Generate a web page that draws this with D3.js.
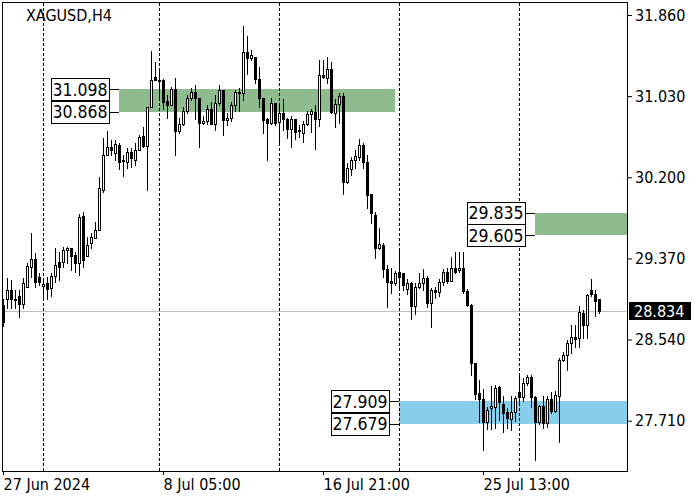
<!DOCTYPE html>
<html><head><meta charset="utf-8">
<script src="https://cdn.jsdelivr.net/npm/d3@7"></script>
<style>
html,body{margin:0;padding:0;background:#fff;}
svg{display:block;}
text{font-family:"DejaVu Sans Condensed","Liberation Sans",sans-serif;}
</style>
</head><body>
<svg id="chart" width="700" height="500"></svg>
<script>
// ---- data (XAGUSD, H4) ----
const opens = [28.89,28.95,29.05,28.96,28.99,28.90,29.08,29.28,29.36,29.18,
29.09,29.12,29.07,29.19,29.33,29.33,29.46,29.48,29.40,29.32,
29.80,29.39,29.53,29.58,29.66,30.07,30.43,30.51,30.45,30.53,
30.37,30.36,30.46,30.38,30.48,30.62,30.52,30.92,31.23,31.20,
31.20,30.98,30.94,31.10,30.67,30.75,30.88,31.01,31.07,31.01,
30.76,30.78,30.90,30.75,30.96,31.09,30.79,30.81,30.94,31.07,
31.06,31.48,31.42,31.43,31.21,31.01,30.80,30.76,30.96,30.77,
30.86,30.80,30.69,30.80,30.67,30.65,30.75,30.85,30.87,30.80,
31.25,31.22,31.31,30.86,30.95,31.03,30.15,30.28,30.38,30.41,
30.53,30.36,30.03,29.81,29.48,29.51,29.26,29.14,29.12,29.23,
29.22,29.06,29.12,28.88,29.08,29.12,29.17,28.91,29.05,29.03,
29.13,29.23,29.14,29.27,29.25,29.27,29.04,28.89,28.30,27.99,
27.93,27.70,27.84,27.85,28.05,27.88,27.80,27.73,27.80,28.00,
27.95,28.10,28.16,27.95,27.70,27.86,27.69,27.93,27.81,27.96,
28.33,28.38,28.50,28.57,28.56,28.81,28.69,29.05,29.01,28.95];
const highs = [28.95,29.17,29.15,29.05,29.05,29.17,29.32,29.63,29.43,29.22,
29.14,29.18,29.22,29.48,29.44,29.49,29.49,29.48,29.44,29.82,
29.84,29.59,29.63,29.74,30.20,30.60,30.67,30.58,30.58,30.55,
30.43,30.50,30.50,30.55,30.63,30.71,30.92,31.49,31.38,31.32,
31.21,31.04,31.12,31.22,30.81,30.92,31.04,31.11,31.14,31.01,
30.83,30.94,30.97,31.04,31.14,31.09,30.86,30.97,31.09,31.11,
31.75,31.65,31.50,31.43,31.33,31.01,30.81,31.01,30.96,30.96,
31.00,30.81,30.83,30.80,30.73,30.78,30.88,30.90,30.94,31.40,
31.40,31.43,31.38,31.00,31.06,31.06,30.35,30.41,30.48,30.59,
30.55,30.43,30.03,29.84,29.68,29.53,29.30,29.27,29.24,29.48,
29.22,29.16,29.13,29.12,29.22,29.26,29.19,29.07,29.08,29.16,
29.26,29.27,29.38,29.44,29.44,29.44,29.06,28.90,28.30,28.13,
28.03,27.85,28.06,28.08,28.07,27.96,27.84,27.96,27.96,28.19,
28.15,28.18,28.18,27.96,27.87,27.96,27.96,28.00,28.01,28.35,
28.41,28.54,28.69,28.69,28.88,28.84,29.01,29.16,29.05,28.96];
const lows = [28.68,28.86,28.86,28.86,28.77,28.86,29.08,29.18,29.08,29.10,
28.96,28.96,28.99,29.13,29.15,29.28,29.32,29.25,29.23,29.20,
29.28,29.39,29.48,29.58,29.66,30.05,30.43,30.43,30.38,30.28,
30.21,30.30,30.31,30.33,30.48,30.51,30.07,30.92,31.19,30.99,
30.90,30.81,30.94,30.43,30.65,30.73,30.86,30.99,30.80,30.51,
30.75,30.74,30.75,30.68,30.94,30.63,30.73,30.78,30.88,30.88,
30.99,31.26,31.40,31.16,30.92,30.65,30.38,30.75,30.73,30.56,
30.68,30.60,30.51,30.59,30.61,30.56,30.73,30.66,30.49,30.72,
31.22,31.16,30.86,30.71,30.76,30.03,30.14,30.22,30.30,30.38,
30.30,29.89,29.73,29.37,29.47,29.18,28.87,29.02,29.10,29.05,
29.05,29.01,28.75,28.80,29.07,29.05,28.87,28.67,28.97,28.99,
29.10,29.12,29.14,29.22,29.23,29.02,28.88,28.18,27.93,27.70,
27.41,27.62,27.62,27.64,27.72,27.59,27.64,27.61,27.71,27.90,
27.91,28.08,27.85,27.31,27.68,27.64,27.65,27.79,27.80,27.49,
28.32,28.23,28.40,28.46,28.46,28.56,28.56,28.99,28.78,28.81];
const closes = [28.72,29.05,28.95,28.95,28.90,29.12,29.29,29.36,29.13,29.13,
29.11,29.06,29.19,29.30,29.28,29.46,29.48,29.39,29.32,29.79,
29.35,29.51,29.59,29.66,30.09,30.43,30.51,30.48,30.54,30.36,
30.38,30.46,30.40,30.48,30.61,30.52,30.92,31.19,31.20,31.18,
30.97,30.94,31.10,30.67,30.75,30.88,31.01,31.07,31.01,30.76,
30.78,30.90,30.75,30.96,31.09,30.79,30.81,30.94,31.07,31.06,
31.48,31.42,31.45,31.21,31.01,30.79,30.76,30.96,30.76,30.86,
30.80,30.69,30.80,30.66,30.68,30.75,30.85,30.88,30.80,31.25,
31.23,31.31,30.87,30.95,31.03,30.15,30.30,30.38,30.42,30.53,
30.36,30.02,29.83,29.48,29.52,29.26,29.13,29.12,29.22,29.18,
29.10,29.12,28.88,29.08,29.12,29.17,28.91,29.05,29.03,29.13,
29.23,29.14,29.27,29.23,29.27,29.04,28.89,28.30,27.98,27.93,
27.70,27.82,27.86,28.04,27.90,27.79,27.74,27.80,27.94,27.95,
28.10,28.16,27.95,27.70,27.86,27.69,27.93,27.81,27.97,28.33,
28.38,28.50,28.57,28.55,28.82,28.69,29.00,29.01,28.93,28.834];

const symbolTitle = "XAGUSD,H4";
const priceTicks = [31.860, 31.030, 30.200, 29.370, 28.540, 27.710];
const timeLabels = ["27 Jun 2024", "8 Jul 05:00", "16 Jul 21:00", "25 Jul 13:00"];
const timeLabelBars = [0, 40, 80, 120];
const separatorBars = [10, 39, 69, 99, 129];
const lastPrice = 28.834;

// zones: upper price, lower price, first bar, last bar (null = to right edge)
const zoneHigh = [31.098, 29.835, 27.909];
const zoneLow  = [30.868, 29.605, 27.679];
const zoneFromBar = [29, 133, 99];
const zoneToBar = [98, null, null];
const zoneKind = ["supply", "supply", "demand"];

// ---- drawing ----
const W = 700, H = 500;
const plot = {left: 2, right: 627, top: 2, bottom: 471};
const colors = {supply: "#8fbc8f", demand: "#87ceeb", grid: "#000", lastLine: "#c0c0c0"};

const svg = d3.select("#chart");
svg.append("rect").attr("width", W).attr("height", H).attr("fill", "#fff");

const x = d3.scaleLinear().domain([0, 149]).range([3, 599]);
const y = d3.scaleLinear().domain([27.71, 31.86]).range([420.7, 15]);
const px = v => Math.round(v);

// zones
const zones = zoneHigh.map((h, k) => ({h, l: zoneLow[k], from: zoneFromBar[k], to: zoneToBar[k], kind: zoneKind[k]}));
svg.append("g").selectAll("rect").data(zones).join("rect")
  .attr("x", d => px(x(d.from)))
  .attr("width", d => (d.to === null ? plot.right : px(x(d.to))) - px(x(d.from)))
  .attr("y", d => px(y(d.h)))
  .attr("height", d => px(y(d.l)) - px(y(d.h)))
  .attr("fill", d => colors[d.kind]);

// last price line
svg.append("line")
  .attr("x1", plot.left).attr("x2", plot.right)
  .attr("y1", px(y(lastPrice)) + 0.5).attr("y2", px(y(lastPrice)) + 0.5)
  .attr("stroke", colors.lastLine).attr("stroke-width", 1);

// separators
svg.append("g").selectAll("line").data(separatorBars).join("line")
  .attr("x1", d => px(x(d)) + 0.5).attr("x2", d => px(x(d)) + 0.5)
  .attr("y1", plot.top + 1).attr("y2", plot.bottom)
  .attr("stroke", colors.grid).attr("stroke-width", 1)
  .attr("stroke-dasharray", "3,2");

// candles
const bars = d3.range(closes.length).map(i => ({i, o: opens[i], h: highs[i], l: lows[i], c: closes[i]}));
const cg = svg.append("g");
cg.selectAll("line").data(bars).join("line")
  .attr("x1", d => px(x(d.i)) + 0.5).attr("x2", d => px(x(d.i)) + 0.5)
  .attr("y1", d => px(y(d.h))).attr("y2", d => px(y(d.l)) + 1)
  .attr("stroke", "#000").attr("stroke-width", 1);
cg.selectAll("rect").data(bars).join("rect")
  .attr("x", d => px(x(d.i)) - 1 + 0.5)
  .attr("width", 2)
  .attr("y", d => px(y(Math.max(d.o, d.c))) + 0.5)
  .attr("height", d => Math.max(px(y(Math.min(d.o, d.c))) - px(y(Math.max(d.o, d.c))), 1))
  .attr("fill", d => d.c >= d.o ? "#fff" : "#000")
  .attr("stroke", "#000").attr("stroke-width", 1);

// frame
svg.append("rect")
  .attr("x", plot.left + 0.5).attr("y", plot.top + 0.5)
  .attr("width", plot.right - plot.left).attr("height", plot.bottom - plot.top)
  .attr("fill", "none").attr("stroke", "#000").attr("stroke-width", 1);

// right axis
const yAxis = d3.axisRight(y).tickValues(priceTicks).tickFormat(d3.format(".3f")).tickSize(5).tickPadding(3);
const ya = svg.append("g").attr("transform", `translate(${plot.right},0)`).call(yAxis);
ya.select(".domain").remove();
ya.selectAll(".tick line").attr("stroke", "#000");
ya.selectAll(".tick text").attr("font-size", 16).attr("fill", "#000")
  .style("font-family", '"DejaVu Sans Condensed","Liberation Sans",sans-serif');

// bottom axis
const xAxis = d3.axisBottom(x).tickValues(timeLabelBars).tickFormat((d, k) => timeLabels[k]).tickSize(4).tickPadding(4);
const xa = svg.append("g").attr("transform", `translate(0,${plot.bottom})`).call(xAxis);
xa.select(".domain").remove();
xa.selectAll(".tick line").attr("stroke", "#000");
xa.selectAll(".tick text").attr("font-size", 16).attr("fill", "#000")
  .attr("text-anchor", "start").attr("x", 0)
  .style("font-family", '"DejaVu Sans Condensed","Liberation Sans",sans-serif');

// last price tag
const ly = y(lastPrice);
svg.append("rect").attr("x", plot.right + 2).attr("y", px(ly) - 9).attr("width", 62).attr("height", 18).attr("fill", "#000");
svg.append("text").attr("x", plot.right + 7).attr("y", ly).attr("dy", "0.36em")
  .attr("font-size", 16).attr("fill", "#fff").text(d3.format(".3f")(lastPrice));

// zone price labels
const labelData = [];
zones.forEach(z => {
  labelData.push({p: z.h, from: z.from});
  labelData.push({p: z.l, from: z.from});
});
const lg = svg.append("g");
labelData.forEach(d => {
  const zx = px(x(d.from));
  const right = zx - 10;
  const cy = y(d.p);
  lg.append("line").attr("x1", right).attr("x2", zx).attr("y1", px(cy) + 0.5).attr("y2", px(cy) + 0.5)
    .attr("stroke", "#000");
  lg.append("rect").attr("x", right - 58 + 0.5).attr("y", px(cy - 11) + 0.5).attr("width", 58).attr("height", 22)
    .attr("fill", "#fff").attr("stroke", "#000");
  lg.append("text").attr("x", right - 29).attr("y", cy).attr("dy", "0.36em").attr("text-anchor", "middle")
    .attr("font-size", 17.5).attr("fill", "#000").text(d3.format(".3f")(d.p));
});

// title
svg.append("text").attr("x", 26).attr("y", 21).attr("font-size", 16).attr("fill", "#000").text(symbolTitle);
</script>
</body></html>
